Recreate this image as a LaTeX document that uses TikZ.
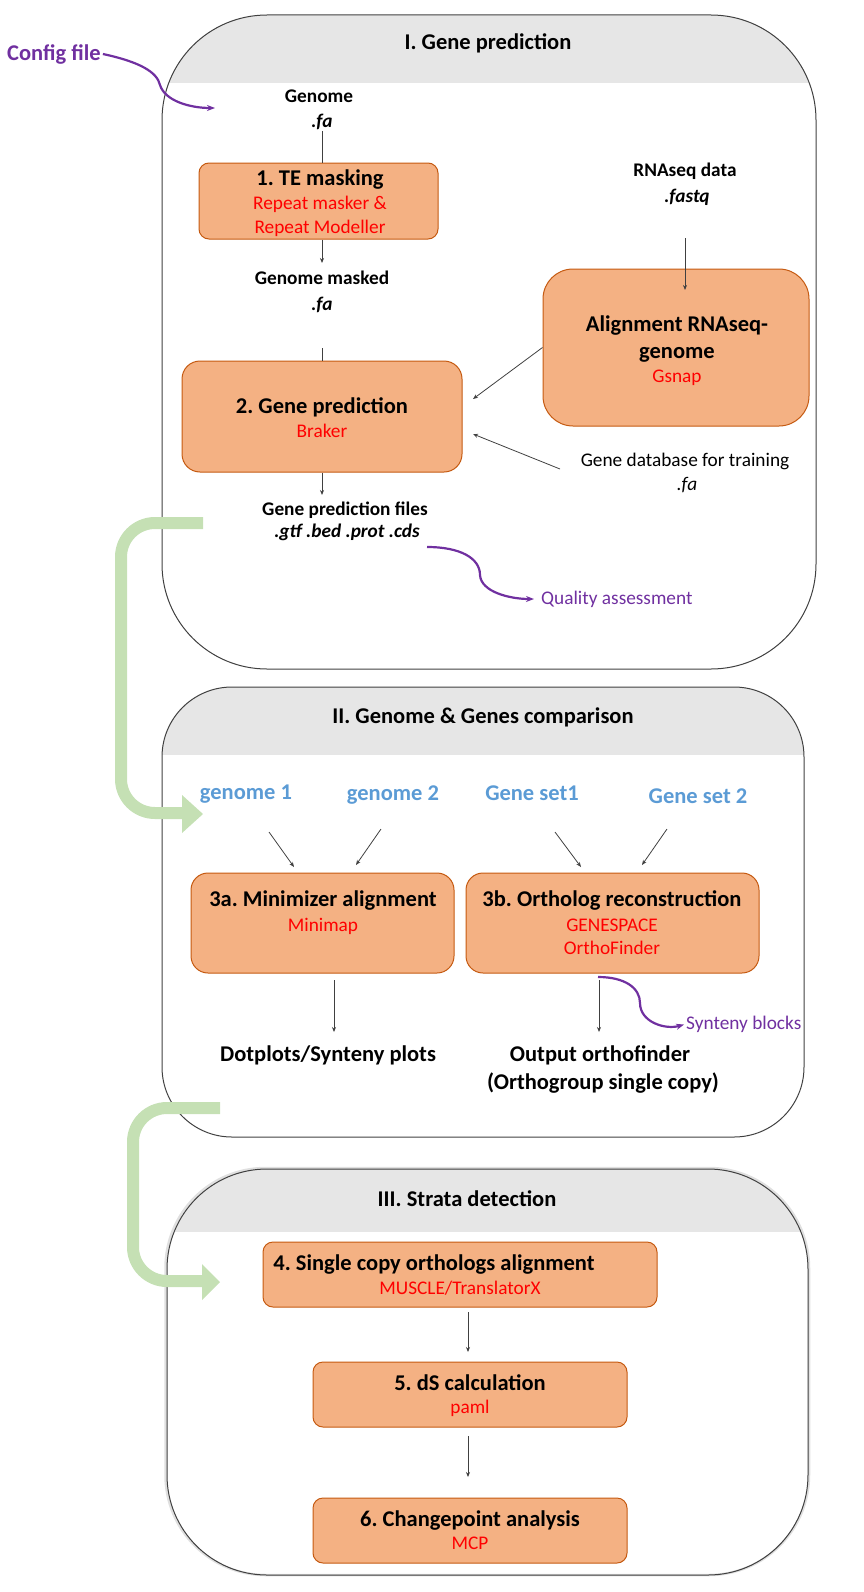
\documentclass[tikz,border=0pt]{standalone}
\usepackage{fontspec}
\setmainfont{Carlito}
\usetikzlibrary{arrows.meta,calc}
\definecolor{boxfill}{HTML}{F4B183}
\definecolor{boxline}{HTML}{C55A11}
\definecolor{hdr}{HTML}{E6E6E6}
\definecolor{purp}{HTML}{7030A0}
\definecolor{blu}{HTML}{5B9BD5}
\definecolor{grn}{HTML}{C5E0B4}
\definecolor{tred}{HTML}{FF0000}
\definecolor{edge}{HTML}{404040}
\frenchspacing
\begin{document}
\begin{tikzpicture}[x=1pt,y=-1pt,
  big/.style={inner sep=0pt, text height=18pt, text depth=4.5pt, font=\fontsize{22.5}{27}\selectfont\bfseries},
  mid/.style={inner sep=0pt, text height=15.4pt, text depth=3.9pt, font=\fontsize{19.3}{23}\selectfont\bfseries},
  midi/.style={mid, font=\fontsize{19.3}{23}\selectfont\bfseries\itshape},
  reg/.style={inner sep=0pt, text height=15.4pt, text depth=3.9pt, font=\fontsize{19.3}{23}\selectfont},
  tool/.style={reg, text=tred},
  inp/.style={big, text=blu},
  stepbox/.style={draw=boxline, fill=boxfill, line width=1pt, inner sep=0pt},
  panel/.style={draw=edge, line width=1pt},
  conn/.style={draw=edge, line width=0.8pt},
  arr/.style={conn, -{Stealth[length=5pt,width=4pt]}},
  parr/.style={draw=purp, line width=2.2pt, -{Stealth[length=8pt,width=6pt]}},
  gline/.style={draw=grn, line width=12pt, rounded corners=34pt}
]
\useasboundingbox (0,0) rectangle (864,1592);

% ---------- Panel I ----------
\begin{scope}
  \clip[rounded corners=105pt] (162,15) rectangle (816,669);
  \fill[hdr] (162,15) rectangle (816,83);
\end{scope}
\draw[panel, rounded corners=105pt] (162,15) rectangle (816,669);
\node[big] (t1) at (488,43) {I. Gene prediction};

\node[mid] (g1) at (319,97) {Genome};
\node[midi] (g1fa) at (322,122) {.fa};
\node[stepbox, rounded corners=10pt, minimum width=239pt, minimum height=76pt] (b1) at (318.5,201) {};
\node[big] (b1t) at (320,179) {1. TE masking};
\node[tool] (b1a) at (320,204) {Repeat masker \&};
\node[tool] (b1b) at (320,228) {Repeat Modeller};

\node[mid] (gm) at (322,279) {Genome masked};
\node[midi] (gmfa) at (322,305) {.fa};

\node[stepbox, rounded corners=18pt, minimum width=280pt, minimum height=111pt] (b2) at (322,416.5) {};
\node[big] (b2t) at (322,407) {2. Gene prediction};
\node[tool] (b2a) at (322,432) {Braker};

\node[mid] (gp) at (345,510) {Gene prediction files};
\node[midi] (gpx) at (347,532) {.gtf .bed .prot .cds};

\node[mid] (rna) at (685,171) {RNAseq data};
\node[midi] (rnax) at (687,197) {.fastq};

\node[stepbox, rounded corners=30pt, minimum width=266pt, minimum height=157pt] (b3) at (676,347.5) {};
\node[big] (b3t) at (677,325) {Alignment RNAseq-};
\node[big] (b3u) at (677,352) {genome};
\node[tool] (b3a) at (677,377) {Gsnap};

\node[reg] (gdb) at (685,461) {Gene database for training};
\node[reg, font=\fontsize{19.3}{23}\selectfont\itshape] (gdbx) at (687,485) {.fa};

\node[reg, text=purp, anchor=west] (qa) at (541,599) {Quality assessment};
\node[big, text=purp, anchor=west] (cfg) at (7,54) {Config file};

% connectors panel I
\coordinate (l1s) at (322,131);
\draw[conn] (l1s) -- (l1s |- b1.north);
\coordinate (a1e) at (322,263);
\draw[arr] (a1e |- b1.south) -- (a1e);
\coordinate (l2s) at (322,348);
\draw[conn] (l2s) -- (l2s |- b2.north);
\coordinate (a2e) at (322,495);
\draw[arr] (a2e |- b2.south) -- (a2e);
\coordinate (r1s) at (685,238);
\coordinate (r1e) at (685,290);
\draw[arr] (r1s) -- (r1e);
\coordinate (c1) at (473,399);
\draw[arr] (b3.west) -- (c1);
\coordinate (d1s) at (560,469);
\coordinate (c2) at (473,434);
\draw[arr] (d1s) -- (c2);
\coordinate (q1s) at (427,547);
\draw[parr, shorten >=7pt] (q1s) .. controls (460,547) and (480,558) .. (480,575)
  .. controls (481,592) and (510,599) .. (qa.west);
\coordinate (cfge) at (215,108);
\draw[parr] ([xshift=2pt]cfg.east) .. controls (140,62) and (157,72) .. (160,85)
  .. controls (165,101) and (190,108) .. (cfge);

% ---------- Panel II ----------
\begin{scope}
  \clip[rounded corners=70pt] (162,687) rectangle (804,1137);
  \fill[hdr] (162,687) rectangle (804,755);
\end{scope}
\draw[panel, rounded corners=70pt] (162,687) rectangle (804,1137);
\node[big] (t2) at (483,717) {II. Genome \& Genes comparison};

\node[inp] (ge1) at (246,793) {genome 1};
\node[inp] (ge2) at (393,794) {genome 2};
\node[inp] (gs1) at (532,794) {Gene set1};
\node[inp] (gs2) at (698,797) {Gene set 2};

\node[stepbox, rounded corners=17pt, minimum width=263pt, minimum height=100pt] (b3a) at (322.5,923) {};
\node[big] (b3at) at (323,900) {3a. Minimizer alignment};
\node[tool] (b3aa) at (323,926) {Minimap};
\node[stepbox, rounded corners=17pt, minimum width=293pt, minimum height=100pt] (b3b) at (612.5,923) {};
\node[big] (b3bt) at (612,900) {3b. Ortholog reconstruction};
\node[tool] (b3ba) at (612,926) {GENESPACE};
\node[tool] (b3bb) at (612,949) {OrthoFinder};

\node[big] (dot) at (328,1055) {Dotplots/Synteny plots};
\node[big] (oo) at (600,1055) {Output orthofinder};
\node[big] (oo2) at (603,1083) {(Orthogroup single copy)};
\node[reg, text=purp, anchor=west] (syn) at (686,1024) {Synteny blocks};

\coordinate (e1s) at (269,832); \coordinate (e1e) at (294,867);
\coordinate (e2s) at (381,829); \coordinate (e2e) at (356,865);
\coordinate (e3s) at (555,832); \coordinate (e3e) at (581,867);
\coordinate (e4s) at (667,829); \coordinate (e4e) at (642,865);
\draw[arr] (e1s) -- (e1e);
\draw[arr] (e2s) -- (e2e);
\draw[arr] (e3s) -- (e3e);
\draw[arr] (e4s) -- (e4e);
\coordinate (f1s) at (334,980); \coordinate (f1e) at (334,1032);
\draw[arr] (f1s) -- (f1e);
\coordinate (f2s) at (599,980); \coordinate (f2e) at (599,1032);
\draw[arr] (f2s) -- (f2e);
\coordinate (s1s) at (598,977);
\draw[parr, shorten >=2pt] (s1s) .. controls (625,977) and (640,988) .. (640,1003)
  .. controls (640,1022) and (665,1030) .. (syn.west);

% ---------- Panel III ----------
\begin{scope}
  \clip[rounded corners=100pt] (167,1169) rectangle (808,1575);
  \fill[hdr] (167,1169) rectangle (808,1232);
\end{scope}
\draw[black!12, line width=2.5pt, rounded corners=100pt] (165.5,1168) rectangle (809,1575);
\draw[panel, rounded corners=100pt] (167,1169) rectangle (808,1575);
\node[big] (t3) at (467,1200) {III. Strata detection};

\node[stepbox, rounded corners=10pt, minimum width=394pt, minimum height=65pt] (b4) at (460,1274.5) {};
\node[big] (b4t) at (434,1264) {4. Single copy orthologs alignment};
\node[tool] (b4a) at (460,1289) {MUSCLE/TranslatorX};
\node[stepbox, rounded corners=10pt, minimum width=314pt, minimum height=65pt] (b5) at (470,1394.5) {};
\node[big] (b5t) at (470,1384) {5. dS calculation};
\node[tool] (b5a) at (470,1408) {paml};
\node[stepbox, rounded corners=10pt, minimum width=314pt, minimum height=65pt] (b6) at (470,1530.5) {};
\node[big] (b6t) at (470,1520) {6. Changepoint analysis};
\node[tool] (b6a) at (470,1544) {MCP};

\coordinate (h1s) at (468,1312); \coordinate (h1e) at (468,1352);
\draw[arr] (h1s) -- (h1e);
\coordinate (h2s) at (468,1436); \coordinate (h2e) at (468,1477);
\draw[arr] (h2s) -- (h2e);

% ---------- green transition arrows ----------
\coordinate (g1s) at (203,523);
\coordinate (g1e) at (183,813);
\draw[gline] (g1s) -- (121,523) -- (121,813) -- (g1e);
\fill[grn] (182,795) -- (203,814) -- (182,833) -- cycle;
\coordinate (g2s) at (220,1108);
\coordinate (g2e) at (203,1281);
\draw[gline] (g2s) -- (133,1108) -- (133,1281) -- (g2e);
\fill[grn] (202,1264) -- (220,1282) -- (202,1300) -- cycle;
\end{tikzpicture}
\end{document}
